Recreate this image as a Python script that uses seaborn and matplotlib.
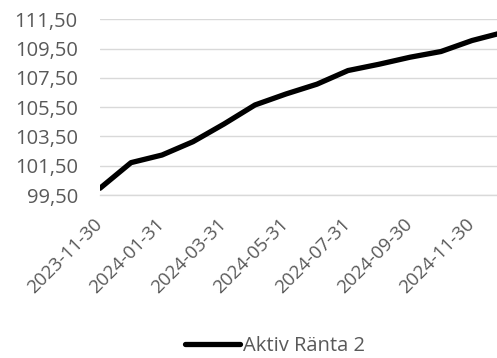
import matplotlib
matplotlib.use("Agg")
import matplotlib.pyplot as plt
import seaborn as sns
import pandas as pd

dates = ["2023-11-30", "2023-12-31", "2024-01-31", "2024-02-29", "2024-03-31",
         "2024-04-30", "2024-05-31", "2024-06-30", "2024-07-31", "2024-08-31",
         "2024-09-30", "2024-10-31", "2024-11-30", "2024-12-31"]
values = [99.96, 101.71, 102.23, 103.14, 104.35, 105.65, 106.40, 107.07,
          108.00, 108.43, 108.91, 109.30, 110.05, 110.60]
series_name = "Aktiv Ränta 2"
y_ticks = [99.5, 101.5, 103.5, 105.5, 107.5, 109.5, 111.5]
y_tick_labels = ["99,50", "101,50", "103,50", "105,50", "107,50", "109,50", "111,50"]

sns.set_style("white")
plt.rcParams["font.family"] = ["Open Sans", "DejaVu Sans"]

df = pd.DataFrame({"pos": range(len(dates)), "value": values, "series": series_name})

W, H = 497, 358
fig = plt.figure(figsize=(W / 100, H / 100), dpi=100)
x0, x1 = 100, 503
y_top, y_bot = 19.3, 195
ax = fig.add_axes([x0 / W, 1 - y_bot / H, (x1 - x0) / W, (y_bot - y_top) / H])

sns.lineplot(data=df, x="pos", y="value", hue="series", palette=["black"],
             linewidth=3.8, ax=ax, legend=True)

FS = 14.5
ax.set_xlim(0, 13)
ax.set_ylim(99.5, 111.5)
ax.set_yticks(y_ticks)
ax.set_yticklabels(y_tick_labels)
ax.set_xticks(range(0, len(dates), 2))
ax.set_xticklabels([dates[i] for i in range(0, len(dates), 2)], rotation=45,
                   ha="right", va="center", rotation_mode="anchor")
ax.set_xlabel("")
ax.set_ylabel("")
ax.grid(axis="y", color="#d9d9d9", linewidth=1.0)
ax.set_axisbelow(True)
for s in ["top", "right", "left"]:
    ax.spines[s].set_visible(False)
ax.spines["bottom"].set_color("#d9d9d9")
ax.spines["bottom"].set_linewidth(1.0)
ax.spines["bottom"].set_zorder(0)
ax.tick_params(axis="y", length=0, pad=16, labelsize=FS, labelcolor="#595959")
ax.tick_params(axis="x", length=5, width=1, color="#d9d9d9", pad=14,
               labelsize=13.5, labelcolor="#595959", direction="out")

ax.legend(loc="center", bbox_to_anchor=(275 / W, 1 - 346 / H),
          bbox_transform=fig.transFigure, frameon=False, fontsize=FS,
          handlelength=2.75, handletextpad=0.15, labelcolor="#595959",
          borderpad=0.1)

fig.savefig("out.png", dpi=100)
